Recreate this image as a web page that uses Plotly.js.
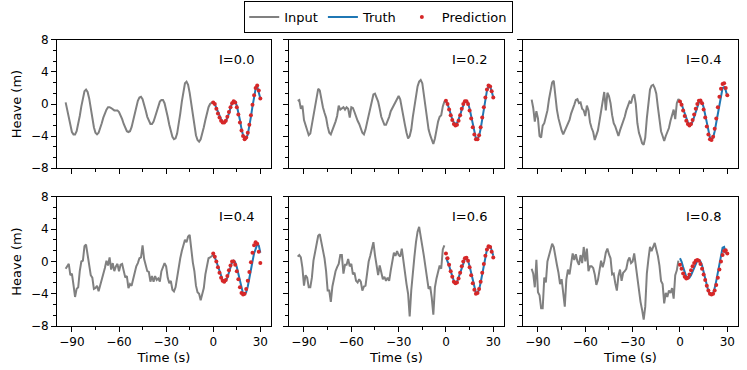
<!DOCTYPE html>
<html>
<head>
<meta charset="utf-8">
<script src="https://cdn.plot.ly/plotly-3.0.1.min.js"></script>
<style>
  html, body { margin: 0; padding: 0; background: #fff; }
  #chart { width: 747px; height: 370px; }
</style>
</head>
<body>
<div id="chart"></div>
<script>
/* Heave forecasts: 95 s of input, 30 s of truth vs prediction, six noise levels */

const INPUT_START = -94;   // first input sample (s), one sample per second
const OUTPUT_START = 0;    // first truth / prediction sample (s)

const panelLabels = ['I=0.0', 'I=0.2', 'I=0.4', 'I=0.4', 'I=0.6', 'I=0.8'];

// input heave (m), t = -94 ... per panel
const input1 = [0.2,-0.8,-1.9,-2.9,-3.5,-3.8,-3.8,-3.4,-2.6,-1.5,
  -0.3,0.8,1.6,1.8,1.5,0.7,-0.5,-1.8,-2.9,-3.6,
  -3.8,-3.6,-3.1,-2.4,-1.7,-1.1,-0.7,-0.4,-0.4,-0.5,
  -0.7,-0.8,-0.8,-0.8,-1.0,-1.4,-1.9,-2.5,-3.0,-3.4,
  -3.5,-3.4,-2.9,-2.1,-1.2,-0.3,0.4,0.8,0.9,0.6,
  0.0,-0.8,-1.6,-2.2,-2.5,-2.5,-2.2,-1.6,-0.9,-0.2,
  0.3,0.5,0.5,0.1,-0.6,-1.6,-2.6,-3.5,-4.1,-4.4,
  -4.3,-3.7,-2.6,-1.2,0.3,1.7,2.6,2.8,2.4,1.4,
  0.0,-1.5,-2.9,-3.9,-4.5,-4.7,-4.4,-3.8,-2.9,-2.0,
  -1.1,-0.4,0.0,0.2,0.3];
const input2 = [0.4,0.5,-0.6,-0.2,-2.0,-2.7,-3.2,-3.9,-3.7,-2.6,
  -1.3,0.0,1.2,1.9,1.7,0.5,-0.4,-1.1,-1.7,-2.8,
  -3.6,-3.8,-3.3,-2.8,-2.2,-1.5,-0.2,-0.7,-0.5,-0.4,
  -0.7,-0.4,-0.6,-1.7,-0.4,-0.5,-1.0,-1.7,-2.1,-2.5,
  -3.0,-3.6,-3.8,-3.2,-2.3,-1.4,-0.4,0.5,1.2,1.3,
  0.7,0.3,-0.6,-1.6,-2.1,-2.6,-2.6,-2.2,-1.6,-0.9,
  -0.5,-0.2,0.3,0.8,1.0,0.6,-0.6,-1.6,-2.6,-3.6,
  -4.3,-4.0,-3.2,-1.6,-0.4,1.3,2.2,2.8,3.0,2.6,
  1.0,-0.6,-1.9,-3.2,-3.9,-4.4,-5.0,-4.3,-3.2,-2.2,
  -1.6,-1.4,-0.3,0.3,0.35];
const input3 = [0.55,-0.5,-2.2,-0.9,-1.8,-4.0,-4.2,-2.7,-2.4,-1.6,
  -0.8,0.6,1.7,2.7,2.9,0.9,-0.7,-1.8,-2.7,-3.3,
  -3.8,-3.3,-2.8,-2.3,-2.0,-1.2,-0.5,-0.1,0.5,0.6,
  0.1,0.2,-0.6,-0.8,-1.5,-0.2,-0.8,-2.3,-3.0,-3.5,
  -4.5,-4.0,-3.3,-2.1,-0.8,0.8,1.5,-0.8,1.4,1.0,
  0.1,-1.4,-2.4,-2.8,-3.3,-4.0,-3.3,-2.8,-2.3,-1.6,
  -0.8,-0.2,0.3,0.1,0.9,1.2,0.0,-2.4,-3.6,-4.2,
  -4.9,-5.1,-4.2,-1.8,0.1,1.8,2.3,2.4,2.0,1.3,
  -0.4,-2.3,-3.4,-4.0,-4.6,-4.0,-3.5,-3.0,-2.1,-1.4,
  -0.7,-1.9,0.1,0.6,0.35];
const input4 = [-0.9,-0.5,-0.3,-1.7,-1.5,-2.9,-4.4,-3.4,-3.2,-1.2,
  0.0,0.1,1.9,2.1,0.6,-0.4,-1.7,-2.0,-3.4,-3.3,
  -3.0,-3.7,-3.0,-2.5,-1.5,-0.8,0.1,-0.5,0.5,-1.0,
  -0.2,-1.2,-0.6,-0.3,-1.2,-0.4,-0.3,-1.2,-2.0,-1.8,
  -3.3,-2.8,-3.0,-2.2,-1.3,-0.6,-0.2,0.4,0.5,2.0,
  0.3,-0.4,-1.2,-1.3,-2.5,-1.8,-2.5,-1.8,-2.3,-2.1,
  -2.5,-1.2,-0.8,-0.2,-0.6,-2.0,-2.7,-2.4,-3.5,-3.7,
  -3.2,-1.8,-0.4,0.4,1.3,2.2,2.7,2.4,3.1,3.3,
  1.2,-0.1,-1.2,-3.0,-3.8,-4.0,-4.8,-3.9,-3.3,-1.6,
  -0.6,0.4,0.5,0.7,0.8];
const input5 = [0.6,0.8,0.5,-0.8,-3.0,-1.7,-2.0,-3.2,-3.2,-2.0,
  0.1,1.2,2.6,3.2,3.4,2.4,1.8,0.4,-1.2,-3.6,
  -3.6,-5.0,-3.1,-2.0,-1.2,-0.7,-0.3,0.8,0.8,-1.5,
  -0.4,-0.4,0.3,-0.6,-0.3,-1.6,-1.4,-2.4,-2.6,-2.2,
  -2.5,-3.6,-3.1,-3.0,-1.2,0.0,0.7,1.8,2.4,0.8,
  -0.3,-1.7,-0.5,-1.3,-2.2,-1.9,-2.4,-2.0,-2.4,-1.1,
  0.3,1.1,0.7,1.3,0.8,0.6,1.6,-0.1,-1.4,-2.8,
  -4.0,-6.8,-3.6,-1.0,0.6,2.4,3.7,4.3,2.8,1.9,
  0.7,-0.6,-2.0,-3.4,-3.1,-4.5,-6.6,-3.2,-2.1,-1.3,
  -0.5,-0.9,1.5,2.0];
const input6 = [-0.9,-1.5,-3.2,0.2,-3.8,-4.2,-5.8,-5.8,-2.0,-2.6,
  0.0,0.8,1.5,2.2,1.8,0.4,-0.4,-1.4,-2.8,-2.2,
  -4.2,-5.6,-2.2,-1.0,-1.6,0.0,1.0,0.2,0.9,0.0,
  -0.4,0.8,-0.2,1.8,0.0,1.6,-1.2,-0.6,-0.6,-0.8,
  -1.6,-2.9,-2.3,-1.1,0.1,-0.7,0.0,1.1,1.6,0.9,
  0.4,-1.6,-1.5,-2.7,-3.6,-1.8,-1.0,-2.4,-1.4,-1.2,
  -0.9,0.1,0.5,-0.2,0.0,1.0,-0.6,-1.9,-3.6,-5.0,
  -6.0,-7.2,-5.6,-1.5,0.3,1.8,1.3,1.8,2.3,1.5,
  0.7,-0.5,-2.4,-2.8,-5.2,-3.9,-4.4,-3.6,-3.9,-3.3,
  -4.6,-1.7,-1.1,0.1];

// truth heave (m), t = 0 ... per panel
const truth1 = [0.2,0.0,-0.5,-1.0,-1.5,-1.9,-2.2,-2.3,-2.2,-1.8,-1.2,-0.5,0.1,0.35,0.3,-0.2,-1.0,-2.0,-3.1,-3.9,-4.3,-4.3,-3.8,-2.8,-1.6,-0.3,0.9,1.9,2.2,1.6,0.7];
const truth2 = [0.35,0.0,-0.6,-1.3,-1.9,-2.3,-2.5,-2.4,-2.0,-1.4,-0.7,-0.1,0.3,0.35,0.1,-0.6,-1.6,-2.7,-3.7,-4.3,-4.4,-4.0,-3.1,-1.9,-0.6,0.7,1.7,2.2,2.2,1.6,0.8];
const truth3 = [0.35,0.0,-0.6,-1.2,-1.8,-2.3,-2.6,-2.6,-2.2,-1.6,-0.9,-0.3,0.2,0.35,0.2,-0.4,-1.4,-2.5,-3.5,-4.2,-4.4,-4.2,-3.4,-2.3,-1.0,0.3,1.3,2.0,2.1,1.7,1.0];
const truth4 = [0.8,0.5,0.0,-0.6,-1.2,-1.8,-2.3,-2.5,-2.4,-2.0,-1.4,-0.7,-0.1,0.1,-0.1,-0.7,-1.6,-2.6,-3.5,-4.0,-4.1,-3.8,-3.1,-2.2,-1.1,0.0,1.0,1.7,2.1,2.0,1.1];
const truth5 = [0.5,0.1,-0.5,-1.2,-1.9,-2.4,-2.6,-2.5,-2.0,-1.4,-0.7,-0.1,0.3,0.4,0.1,-0.6,-1.5,-2.5,-3.4,-3.9,-3.9,-3.5,-2.6,-1.6,-0.5,0.6,1.5,1.9,1.9,1.4,0.7];
const truth6 = [0.4,0.0,-0.7,-1.4,-1.9,-2.1,-2.0,-1.7,-1.2,-0.7,-0.2,0.1,0.2,0.0,-0.5,-1.3,-2.2,-3.0,-3.7,-4.0,-4.1,-3.9,-3.3,-2.4,-1.3,-0.1,1.0,1.7,1.8,1.0];

// predicted heave (m), t = 0 ... per panel
const pred1 = [0.2,0.0,-0.6,-1.2,-1.7,-2.1,-2.3,-2.3,-2.1,-1.6,-1.0,-0.4,0.1,0.35,0.2,-0.4,-1.3,-2.3,-3.3,-4.0,-4.4,-4.2,-3.6,-2.6,-1.4,-0.1,1.1,2.0,2.3,1.7,0.7];
const pred2 = [0.4,0.0,-0.7,-1.4,-2.0,-2.5,-2.7,-2.6,-2.1,-1.4,-0.6,0.0,0.35,0.35,0.0,-0.8,-1.8,-2.9,-3.8,-4.4,-4.4,-3.9,-2.9,-1.7,-0.4,0.8,1.8,2.3,2.2,1.6,0.8];
const pred3 = [0.3,-0.1,-0.8,-1.5,-2.1,-2.5,-2.7,-2.5,-2.0,-1.3,-0.6,0.0,0.4,0.45,0.1,-0.7,-1.7,-2.8,-3.8,-4.4,-4.5,-4.1,-3.1,-1.8,-0.4,0.9,1.9,2.5,2.6,2.0,1.1];
const pred4 = [1.0,0.6,0.0,-0.7,-1.4,-2.0,-2.4,-2.5,-2.3,-1.8,-1.1,-0.5,0.0,0.0,-0.4,-1.2,-2.2,-3.2,-3.9,-4.1,-4.0,-3.4,-2.4,-1.3,-0.1,1.1,2.0,2.4,2.2,1.2,-0.2];
const pred5 = [1.0,0.4,-0.4,-1.2,-1.9,-2.5,-2.7,-2.6,-2.1,-1.4,-0.6,0.0,0.4,0.45,0.1,-0.7,-1.7,-2.7,-3.5,-4.0,-3.9,-3.4,-2.5,-1.4,-0.3,0.7,1.5,1.9,1.8,1.2,0.5];
const pred6 = [-0.4,-0.9,-1.5,-1.9,-2.1,-2.0,-1.6,-1.1,-0.6,-0.2,0.1,0.2,0.1,-0.3,-0.9,-1.6,-2.3,-3.0,-3.6,-4.0,-4.1,-4.0,-3.6,-2.9,-2.0,-1.0,0.0,0.8,1.3,1.4,1.0];

const inputs = [input1, input2, input3, input4, input5, input6];
const truths = [truth1, truth2, truth3, truth4, truth5, truth6];
const preds = [pred1, pred2, pred3, pred4, pred5, pred6];

const FONT = 'DejaVu Sans, Liberation Sans, sans-serif';
const GRAY = '#808080', BLUE = '#1f77b4', RED = '#d62728';

// panel boxes in paper fractions (747 x 370 page)
const colDomains = [[0.0763, 0.3628], [0.3869, 0.6747], [0.7001, 0.9880]];
const rowDomains = [[0.5459, 0.8919], [0.1189, 0.4676]];

const times = (start, n) => Array.from({ length: n }, (_, i) => start + i);

const traces = [];
const layout = {
  width: 747, height: 370,
  margin: { l: 0, r: 0, t: 0, b: 0 },
  paper_bgcolor: '#fff', plot_bgcolor: '#fff',
  font: { family: FONT, size: 12, color: '#000' },
  showlegend: true,
  legend: {
    orientation: 'h', x: 0.507, xanchor: 'center', y: 0.997, yanchor: 'top',
    bordercolor: '#000', borderwidth: 1, bgcolor: '#fff',
    font: { size: 13 }, itemwidth: 30, tracegroupgap: 0
  },
  annotations: []
};

for (let p = 0; p < 6; p++) {
  const n = p + 1;
  const row = Math.floor(p / 3), col = p % 3;
  const xa = n === 1 ? 'x' : 'x' + n, ya = n === 1 ? 'y' : 'y' + n;
  const first = p === 0;

  traces.push({
    x: times(INPUT_START, inputs[p].length), y: inputs[p], xaxis: xa, yaxis: ya,
    mode: 'lines', name: 'Input', legendgroup: 'in', showlegend: first,
    line: { color: GRAY, width: 2 }
  });
  traces.push({
    x: times(OUTPUT_START, truths[p].length), y: truths[p], xaxis: xa, yaxis: ya,
    mode: 'lines', name: 'Truth', legendgroup: 'tr', showlegend: first,
    line: { color: BLUE, width: 2 }
  });
  traces.push({
    x: times(OUTPUT_START, preds[p].length), y: preds[p], xaxis: xa, yaxis: ya,
    mode: 'markers', name: 'Prediction', legendgroup: 'pr', showlegend: first,
    marker: { color: RED, size: 4 }
  });

  const axisCommon = {
    showline: true, linecolor: '#000', linewidth: 1, mirror: true,
    showgrid: false, zeroline: false,
    ticks: 'outside', ticklen: 5, tickwidth: 1, tickcolor: '#000',
    tickfont: { size: 12, family: FONT, color: '#000' }
  };

  layout[n === 1 ? 'xaxis' : 'xaxis' + n] = Object.assign({}, axisCommon, {
    domain: colDomains[col], anchor: ya,
    range: [-99.5, 36.8], tickmode: 'linear', tick0: 0, dtick: 30,
    minor: { dtick: 15, tick0: 0, ticks: 'outside', ticklen: 3, tickwidth: 1, tickcolor: '#000', showgrid: false },
    showticklabels: row === 1,
    title: row === 1 ? { text: 'Time (s)', font: { size: 13, family: FONT }, standoff: 4 } : { text: '' }
  });
  layout[n === 1 ? 'yaxis' : 'yaxis' + n] = Object.assign({}, axisCommon, {
    domain: rowDomains[row], anchor: xa,
    range: [-8, 8], tickmode: 'linear', tick0: 0, dtick: 4,
    minor: { dtick: 4 / 3, tick0: -8, ticks: 'outside', ticklen: 3, tickwidth: 1, tickcolor: '#000', showgrid: false },
    showticklabels: col === 0,
    title: col === 0 ? { text: 'Heave (m)', font: { size: 13, family: FONT }, standoff: 6 } : { text: '' }
  });

  layout.annotations.push({
    text: panelLabels[p], showarrow: false,
    xref: xa + ' domain', yref: ya + ' domain', x: 0.93, y: 0.845,
    xanchor: 'right', yanchor: 'middle',
    font: { size: 13, family: FONT, color: '#000' }
  });
}

Plotly.newPlot('chart', traces, layout, { displayModeBar: false, staticPlot: true });
</script>
</body>
</html>
